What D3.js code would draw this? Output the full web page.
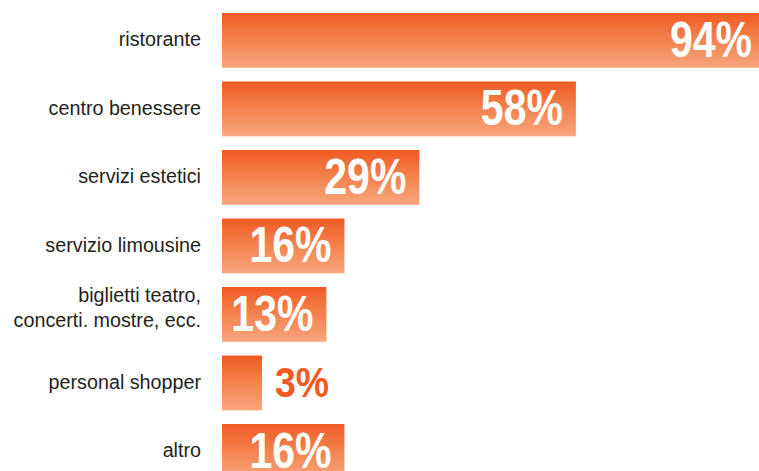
<!DOCTYPE html>
<html>
<head>
<meta charset="utf-8">
<script src="https://cdn.jsdelivr.net/npm/d3@7"></script>
<style>
  html, body { margin: 0; padding: 0; background: #fff; }
  svg { display: block; }
  .cat { font-family: "Liberation Sans", Arial, sans-serif; font-size: 21px; fill: #231f20; }
  .val { font-family: "Liberation Sans", Arial, sans-serif; font-weight: bold; }
</style>
</head>
<body>
<svg id="chart" width="759" height="471"></svg>
<script>
const categories = [
  ["ristorante"],
  ["centro benessere"],
  ["servizi estetici"],
  ["servizio limousine"],
  ["biglietti teatro,", "concerti. mostre, ecc."],
  ["personal shopper"],
  ["altro"]
];
const values = [94, 58, 29, 16, 13, 3, 16];
const valueLabels = values.map(v => v + "%");

const W = 759, H = 471;
const svg = d3.select("#chart");

const keys = categories.map((c, i) => i);
const y = d3.scaleBand().domain(keys).range([13, 478.8]).paddingInner(0.2).paddingOuter(0);
const x0 = 222;
const x = d3.scalePow().exponent(0.9).domain([0, 94]).range([238.6, 759.5]);

const defs = svg.append("defs");
const grad = defs.append("linearGradient").attr("id", "barGrad")
  .attr("x1", 0).attr("y1", 0).attr("x2", 0).attr("y2", 1);
grad.append("stop").attr("offset", "0%").attr("stop-color", "#f15a24");
grad.append("stop").attr("offset", "45%").attr("stop-color", "#f37f4a");
grad.append("stop").attr("offset", "100%").attr("stop-color", "#f8a67d");

svg.selectAll("rect.bar").data(values).join("rect")
  .attr("class", "bar")
  .attr("x", x0)
  .attr("y", (d, i) => y(i))
  .attr("width", d => x(d) - x0)
  .attr("height", y.bandwidth())
  .attr("fill", "url(#barGrad)");

// category labels
const lineH = 25;
svg.selectAll("text.cat").data(categories).join("text")
  .attr("class", "cat")
  .attr("text-anchor", "end")
  .each(function(lines, i) {
    const cy = y(i) + y.bandwidth() / 2;
    const t = d3.select(this);
    const startY = cy + 5.6 - (lines.length - 1) * 18.1;
    t.attr("transform", `translate(201,${startY}) scale(0.94,1)`);
    lines.forEach((ln, j) => {
      t.append("tspan").attr("x", 0).attr("y", j * lineH).text(ln);
    });
  });

// value labels
svg.selectAll("text.val").data(values).join("text")
  .attr("class", "val")
  .each(function(d, i) {
    const t = d3.select(this);
    const cy = y(i) + y.bandwidth() / 2;
    const inside = (x(d) - x0) > 90;
    const fs = inside ? 50 : 43;
    const sx = inside ? 0.82 : 0.87;
    const base = cy - 1.5 + fs * 0.716 / 2;
    const px = inside ? (x(d) >= W - 1 ? W - 7 : x(d) - 13) : x(d) + 13;
    t.attr("transform", `translate(${px},${base}) scale(${sx},1)`)
     .attr("font-size", fs)
     .attr("text-anchor", inside ? "end" : "start")
     .attr("fill", inside ? "#ffffff" : "#f15a24")
     .text(valueLabels[i]);
  });
</script>
</body>
</html>
